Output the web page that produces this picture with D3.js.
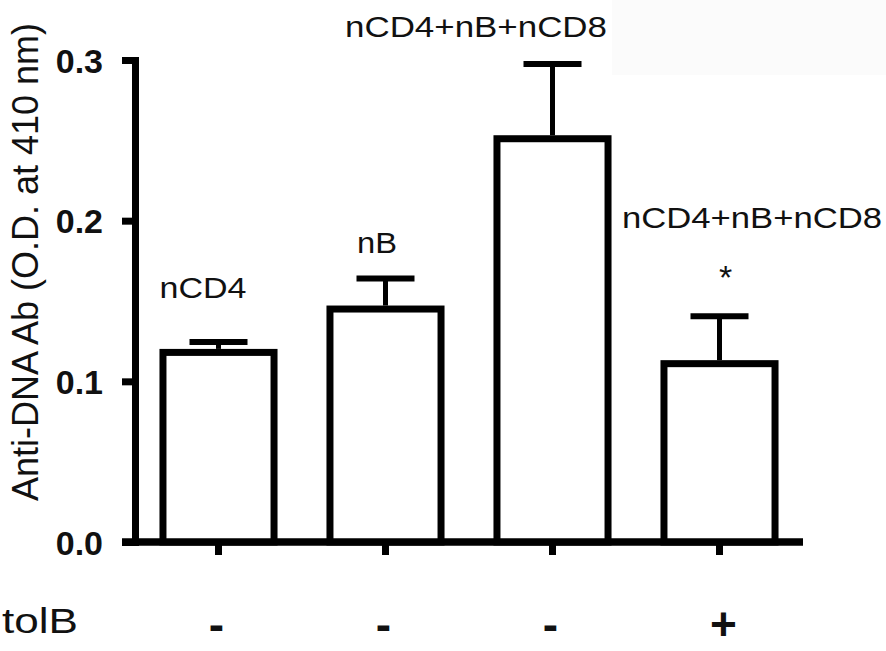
<!DOCTYPE html>
<html>
<head>
<meta charset="utf-8">
<script src="https://cdn.jsdelivr.net/npm/d3@7/dist/d3.min.js"></script>
<style>
  html, body { margin: 0; padding: 0; background: #fff; }
  svg { display: block; }
  text { font-family: "Liberation Sans", Arial, Helvetica, sans-serif; fill: #111; }
</style>
</head>
<body>
<div id="chart"></div>
<script>
// ---- data ----
const categories = ["nCD4", "nB", "nCD4+nB+nCD8", "nCD4+nB+nCD8 +tolB"];
const groupLabels = ["nCD4", "nB", "nCD4+nB+nCD8", "nCD4+nB+nCD8"];
const means = [0.118, 0.145, 0.251, 0.111];
const sems = [0.0065, 0.019, 0.0465, 0.0295];
const tolB = ["-", "-", "-", "+"];
const significance = ["", "", "", "*"];
const yTicks = [0.0, 0.1, 0.2, 0.3];
const yTitle = "Anti-DNA Ab (O.D. at 410 nm)";
const rowTitle = "tolB";

// ---- layout ----
const W = 886, H = 651;
const svg = d3.select("#chart").append("svg").attr("width", W).attr("height", H);

// faint background patch seen in the scan (top right)
svg.append("rect").attr("x", 612).attr("y", 0).attr("width", W - 612).attr("height", 75)
  .attr("fill", "#fbfbfb");

const y = d3.scaleLinear().domain([0, 0.3]).range([542, 60]);
const x = d3.scaleBand().domain(categories).range([135, 803])
  .paddingInner(0.335).paddingOuter(0.335 / 2);
const tickLen = 13;
const axisW = 7;

// Y axis
const gy = svg.append("g").attr("transform", `translate(${x.range()[0]},0)`)
  .call(d3.axisLeft(y).tickValues(yTicks).tickFormat(d3.format(".1f"))
    .tickSize(tickLen).tickSizeOuter(0).tickPadding(19));
gy.select(".domain").attr("stroke", "#000").attr("stroke-width", axisW).attr("stroke-linecap", "square");
gy.selectAll(".tick line").attr("stroke", "#000").attr("stroke-width", axisW);
gy.selectAll(".tick text").attr("font-family", "'Liberation Sans', Arial, sans-serif")
  .attr("font-size", 34).attr("font-weight", "bold").attr("fill", "#111").attr("dy", "0.36em");

// X axis
const gx = svg.append("g").attr("transform", `translate(0,${y(0)})`)
  .call(d3.axisBottom(x).tickSize(tickLen).tickSizeOuter(0).tickFormat(""));
gx.select(".domain").remove();
gx.selectAll(".tick line").attr("stroke", "#000").attr("stroke-width", axisW);
gx.append("line").attr("x1", x.range()[0] - tickLen).attr("x2", x.range()[1])
  .attr("y1", 0).attr("y2", 0).attr("stroke", "#000").attr("stroke-width", axisW);

// Bars
const idx = d3.range(categories.length);
svg.append("g").selectAll("rect").data(idx).join("rect")
  .attr("x", i => x(categories[i]))
  .attr("width", x.bandwidth())
  .attr("y", i => y(means[i]))
  .attr("height", i => y(0) - y(means[i]))
  .attr("fill", "#fff").attr("stroke", "#000").attr("stroke-width", axisW)
  .attr("stroke-linejoin", "miter");

// redraw axis baseline over bar bottoms
svg.append("line").attr("x1", x.range()[0] - tickLen).attr("x2", x.range()[1])
  .attr("y1", y(0)).attr("y2", y(0)).attr("stroke", "#000").attr("stroke-width", axisW);

// Error bars (upper only)
const capHalf = 29;
const eb = svg.append("g");
eb.selectAll("line.stem").data(idx).join("line").attr("class", "stem")
  .attr("x1", i => x(categories[i]) + x.bandwidth() / 2)
  .attr("x2", i => x(categories[i]) + x.bandwidth() / 2)
  .attr("y1", i => y(means[i]) - axisW / 2)
  .attr("y2", i => y(means[i] + sems[i]))
  .attr("stroke", "#000").attr("stroke-width", 5);
eb.selectAll("line.cap").data(idx).join("line").attr("class", "cap")
  .attr("x1", i => x(categories[i]) + x.bandwidth() / 2 - capHalf)
  .attr("x2", i => x(categories[i]) + x.bandwidth() / 2 + capHalf)
  .attr("y1", i => y(means[i] + sems[i]))
  .attr("y2", i => y(means[i] + sems[i]))
  .attr("stroke", "#000").attr("stroke-width", 6);

// Group labels (annotation positions)
const labelPos = [
  { cx: 203, by: 298, len: 87 },
  { cx: 377, by: 253, len: 40 },
  { cx: 476, by: 37, len: 262 },
  { cx: 752, by: 228, len: 260 }
];
svg.append("g").selectAll("text").data(idx).join("text")
  .attr("x", i => labelPos[i].cx).attr("y", i => labelPos[i].by)
  .attr("text-anchor", "middle").attr("font-size", 30)
  .attr("textLength", i => labelPos[i].len).attr("lengthAdjust", "spacingAndGlyphs")
  .text(i => groupLabels[i]);

// significance star
svg.append("g").selectAll("text").data(idx.filter(i => significance[i])).join("text")
  .attr("x", i => x(categories[i]) + x.bandwidth() / 2 + 6)
  .attr("y", 289)
  .attr("text-anchor", "middle").attr("font-size", 34)
  .text(i => significance[i]);

// Y title
svg.append("text")
  .attr("transform", `translate(38,262) rotate(-90)`)
  .attr("text-anchor", "middle").attr("font-size", 36)
  .attr("textLength", 478).attr("lengthAdjust", "spacingAndGlyphs")
  .text(yTitle);

// tolB row
svg.append("text").attr("x", 2).attr("y", 633).attr("font-size", 35)
  .attr("textLength", 76).attr("lengthAdjust", "spacingAndGlyphs").text(rowTitle);
svg.append("g").selectAll("text").data(idx).join("text")
  .attr("x", i => x(categories[i]) + x.bandwidth() / 2 + (tolB[i] === "+" ? 4 : -2))
  .attr("y", 640)
  .attr("text-anchor", "middle").attr("font-size", 46).attr("font-weight", "bold")
  .text(i => tolB[i]);
</script>
</body>
</html>
